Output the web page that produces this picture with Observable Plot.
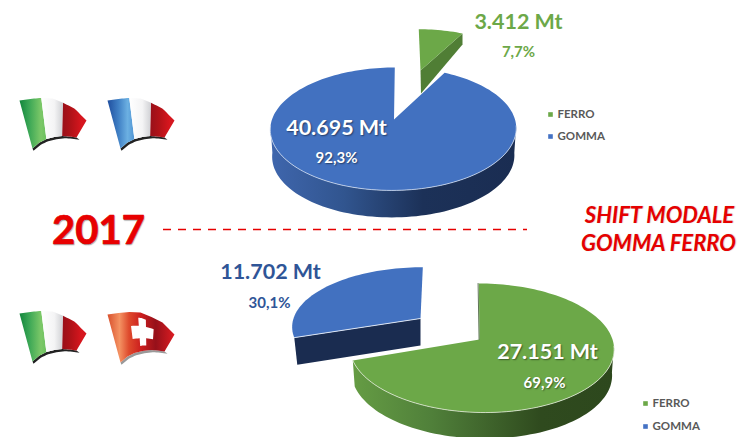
<!DOCTYPE html>
<html>
<head>
<meta charset="utf-8">
<script src="https://cdn.jsdelivr.net/npm/d3@7"></script>
<script src="https://cdn.jsdelivr.net/npm/@observablehq/plot@0.6"></script>
<style>
  html, body { margin: 0; padding: 0; background: #fff; }
  svg { display: block; }
  .lifted text { text-shadow: 1px 1px 1.5px rgba(0,0,0,.45); }
  .soft text { text-shadow: .6px .6px 1px rgba(0,0,0,.25); }
</style>
</head>
<body>
<script>
// Freight between Italy and its neighbours in 2017, by transport mode.
const modes = ["FERRO", "GOMMA"];
const franceKt = [3412, 40695];
const swissKt = [27151, 11702];
const franceTons = ["3.412 Mt", "40.695 Mt"];
const swissTons = ["27.151 Mt", "11.702 Mt"];
const francePct = ["7,7%", "92,3%"];
const swissPct = ["69,9%", "30,1%"];
const yearLabel = "2017";
const shiftLines = ["SHIFT MODALE", "GOMMA FERRO"];

const RED = "#e60000", GREEN = "#6ca848", BLUE = "#4271c0", LEGEND_BLUE = "#4472c4";
const DARK_BLUE_TEXT = "#2f5597", FONT = "Lato";

// Pie model: a circle seen in perspective, angle clockwise from the far point.
function rim(g, deg) {
  const t = deg * Math.PI / 180, u = Math.sin(t), v = Math.cos(t);
  const s = 1 / (1 + g.p * v);
  return {x: g.cx + g.R * u * s + (g.tilt || 0) * v * s, y: g.cy - g.H * v * s};
}
function arc(g, a, b) {
  const n = Math.max(2, Math.ceil(Math.abs(b - a) / 2));
  return d3.range(n + 1).map((i) => rim(g, a + (b - a) * i / n));
}
const apexOf = (g) => ({x: g.ax ?? g.cx, y: g.cy});
const shift = (pts, depth) => pts.map((d) => ({x: d.x, y: d.y + depth}));
function inward(pts, cx, k) { return pts.map((d) => ({x: cx + (d.x - cx) * k, y: d.y})); }

// Angular span of each slice, from the values.
function spans(values) {
  const total = d3.sum(values);
  let a = 0;
  return values.map((v) => { const s = [a, a + v / total * 360]; a = s[1]; return s; });
}

const fill = (pts, color) => Plot.line(pts, {x: "x", y: "y", fill: color, stroke: "none", curve: "linear"});
const edge = (pts, color, w) => Plot.line(pts, {x: "x", y: "y", stroke: color, strokeWidth: w, curve: "linear"});

// Rim wall of a slice, on the visible near half only.
function wall(g, span, depth, color) {
  const a = Math.max(span[0], 96), b = Math.min(span[1], 264);
  const top = arc(g, a, b);
  const bottom = inward(shift(top, depth), g.cx, 0.985);
  return fill([...top, ...bottom.reverse()], color);
}

const [fS1, gS1] = spans(franceKt);
const [fS2, gS2] = spans(swissKt);

// Geometry of the four slices
const topGomma = {cx: 393, cy: 119, ax: 393.5, R: 121.5, H: 60, p: 0.154, tilt: 1.5};
const topFerro = {cx: 420, cy: 70, R: 106, H: 47.6, p: 0.154, tilt: -2};
const lowFerro = {cx: 481, cy: 339, ax: 479, R: 131, H: 63.4, p: 0.132, tilt: -3};
const lowGomma = {cx: 421, cy: 318, ax: 420, R: 128, H: 58, p: 0.132, tilt: 1.5};

const marksTop = [
  wall(topGomma, gS1, 27, "url(#wallBlue)"),
  fill([apexOf(topGomma), ...arc(topGomma, gS1[0], gS1[1])], BLUE),
  edge(arc(topGomma, 96, 264), "#cfdcf0", 0.8),
];
const fCorner = rim(topFerro, fS1[1]);
const marksFerroTop = [
  fill([apexOf(topFerro), fCorner, {x: fCorner.x, y: fCorner.y + 11}, {x: topFerro.cx + 0.5, y: topFerro.cy + 23}], "#507e35"),
  fill([apexOf(topFerro), ...arc(topFerro, fS1[0], fS1[1])], GREEN),
];
const lgA = rim(lowGomma, gS2[0]);
const lgApex = apexOf(lowGomma);
const marksLow = [
  wall(lowFerro, fS2, 26, "url(#wallGreen)"),
  fill([apexOf(lowFerro), ...arc(lowFerro, fS2[0], fS2[1])], GREEN),
  edge(arc(lowFerro, 96, fS2[1]), "#dfe9d5", 0.8),
  edge([{x: 477.6, y: 283}, {x: 478.6, y: 339}], "#35502a", 0.8),
  fill([lgA, lgApex, {x: lgApex.x, y: lgApex.y + 27}, {x: lgA.x + 3, y: lgA.y + 27}], "#1a2c50"),
  fill([lgApex, ...arc(lowGomma, gS2[0], gS2[1])], BLUE),
  edge([lgA, lgApex], "#e8eef8", 0.9),
];

// Waving flag: a bent strip, with stripes in (u, v) strip coordinates.
const flagTop = [[0, 1], [11, -0.6], [22, -1.6], [33, -1], [44, 3.5], [55, 9], [67, 21]];
const flagBot = [[13, 49], [20, 43], [27, 39.5], [35, 37.5], [43, 36.5], [50, 37], [57, 38]];
function along(poly, u) {
  const i = Math.min(poly.length - 2, Math.floor(u * (poly.length - 1)));
  const f = u * (poly.length - 1) - i;
  return [poly[i][0] + (poly[i + 1][0] - poly[i][0]) * f, poly[i][1] + (poly[i + 1][1] - poly[i][1]) * f];
}
function flagPoint(x0, y0, u, v, scale = 1) {
  const a = along(flagTop, u), b = along(flagBot, u);
  return {x: x0 + (a[0] + (b[0] - a[0]) * v) * scale, y: y0 + (a[1] + (b[1] - a[1]) * v) * scale};
}
function flagPatch(x0, y0, u0, u1, v0 = 0, v1 = 1) {
  const us = d3.range(0, 13).map((i) => u0 + (u1 - u0) * i / 12);
  return [
    ...us.map((u) => flagPoint(x0, y0, u, v0)),
    ...us.slice().reverse().map((u) => flagPoint(x0, y0, u, v1)),
  ];
}
function flagShadow(x0, y0, color) {
  const us = d3.range(0, 25).map((i) => i / 24);
  const lower = us.map((u) => flagPoint(x0, y0, u, 1));
  return fill([...lower, ...lower.slice().reverse().map((d, i) => {
    const u = 1 - i / 24;
    return {x: d.x + 1 + 2 * u, y: d.y + 2.2};
  })], color);
}
const stripeFlag = (x0, y0, c) => [
  flagShadow(x0, y0, "#222"),
  fill(flagPatch(x0, y0, 0, 0.33), c[0]),
  fill(flagPatch(x0, y0, 0.33, 0.66), c[1]),
  fill(flagPatch(x0, y0, 0.66, 1), c[2]),
];
const swissFlag = (x0, y0) => [
  flagShadow(x0, y0, "#999"),
  fill(flagPatch(x0, y0, 0, 1), "url(#swiss)"),
  fill(flagPatch(x0, y0, 0.33, 0.71, 0.34, 0.66), "#fff"),
  fill(flagPatch(x0, y0, 0.46, 0.58, 0.14, 0.86), "#fff"),
];
const italy = ["url(#flagGreen)", "url(#flagWhite)", "url(#flagRed)"];
const france = ["url(#flagBlue)", "url(#flagWhite)", "url(#flagRed)"];

// Shared gradient definitions.
function defs() {
  const d = d3.create("svg:defs");
  const add = (id, stops) => {
    const g = d.append("linearGradient").attr("id", id).attr("x1", 0).attr("x2", 1).attr("y1", 0).attr("y2", 0);
    stops.forEach(([o, c]) => g.append("stop").attr("offset", o).attr("stop-color", c));
  };
  add("wallBlue", [[0, "#3f66ad"], [0.3, "#31558f"], [0.62, "#1c3158"], [1, "#1a2d52"]]);
  add("wallGreen", [[0, "#659c44"], [0.3, "#50803a"], [0.72, "#2f4a1e"], [1, "#2d481d"]]);
  add("flagGreen", [[0, "#12863c"], [0.35, "#3aa655"], [0.8, "#7cc868"], [1, "#6cc060"]]);
  add("flagWhite", [[0, "#ffffff"], [0.6, "#f4f4f5"], [1, "#cfd0d4"]]);
  add("flagRed", [[0, "#98101a"], [0.35, "#b01218"], [0.8, "#d8161e"], [1, "#d01820"]]);
  add("flagBlue", [[0, "#1f4e9e"], [0.4, "#3f7fc4"], [0.75, "#6cb0e2"], [1, "#4f94d4"]]);
  add("swiss", [[0, "#d8502c"], [0.18, "#f49262"], [0.32, "#de4a2c"], [0.5, "#cc1e1e"], [0.72, "#96101a"], [1, "#dc1c22"]]);
  return d.node();
}

const label = (text, x, y, size, color, cls, extra = {}) =>
  Plot.text([text], {
    x: () => x, y: () => y, text: (d) => d, fontSize: size, fill: color,
    fontWeight: 700, fontFamily: FONT, textAnchor: "middle", lineAnchor: "middle",
    className: cls, ...extra,
  });

const legend = (x, y1, y2) => [
  Plot.dot([0, 1], {x: () => x, y: (d) => d ? y2 : y1, r: 2.6, symbol: "square", fill: (d) => d ? LEGEND_BLUE : GREEN, stroke: "none"}),
  Plot.text(modes, {x: () => x + 7, y: (d, i) => i ? y2 : y1, text: (d) => d, fontSize: 11.5, fontWeight: 700, fontFamily: FONT, fill: "#595959", textAnchor: "start", lineAnchor: "middle"}),
];

const chart = Plot.plot({
  width: 737, height: 437, margin: 0,
  x: {type: "identity", axis: null}, y: {type: "identity", axis: null},
  color: {type: "identity"},
  style: {background: "#fff"},
  marks: [
    defs,
    ...marksTop, ...marksFerroTop, ...marksLow,
    ...stripeFlag(19, 99, italy), ...stripeFlag(107, 99, france),
    ...stripeFlag(19, 312, italy), ...swissFlag(107, 313),
    Plot.ruleY([229], {x1: 163, x2: 527, stroke: RED, strokeWidth: 1.6, strokeDasharray: "8,7"}),
    label(yearLabel, 98, 231, 40, "#e80000", "soft", {stroke: "#e80000", strokeWidth: 0.7}),
    label(shiftLines[0], 659, 215, 22, RED, "soft", {fontStyle: "italic"}),
    label(shiftLines[1], 658, 243, 22, RED, "soft", {fontStyle: "italic"}),
    label(franceTons[0], 518, 22, 21.5, GREEN, ""),
    label(francePct[0], 518, 52, 15, GREEN, ""),
    label(franceTons[1], 336, 128, 21.5, "#fff", "lifted"),
    label(francePct[1], 336, 158, 15, "#fff", "lifted"),
    label(swissTons[1], 270, 272, 21.5, DARK_BLUE_TEXT, ""),
    label(swissPct[1], 269, 303, 15, DARK_BLUE_TEXT, ""),
    label(swissTons[0], 547, 352, 21.5, "#fff", "lifted"),
    label(swissPct[0], 544, 383, 15, "#fff", "lifted"),
    ...legend(550, 114, 136),
    ...legend(645, 403, 426),
  ],
});
document.body.appendChild(chart);
</script>
</body>
</html>
